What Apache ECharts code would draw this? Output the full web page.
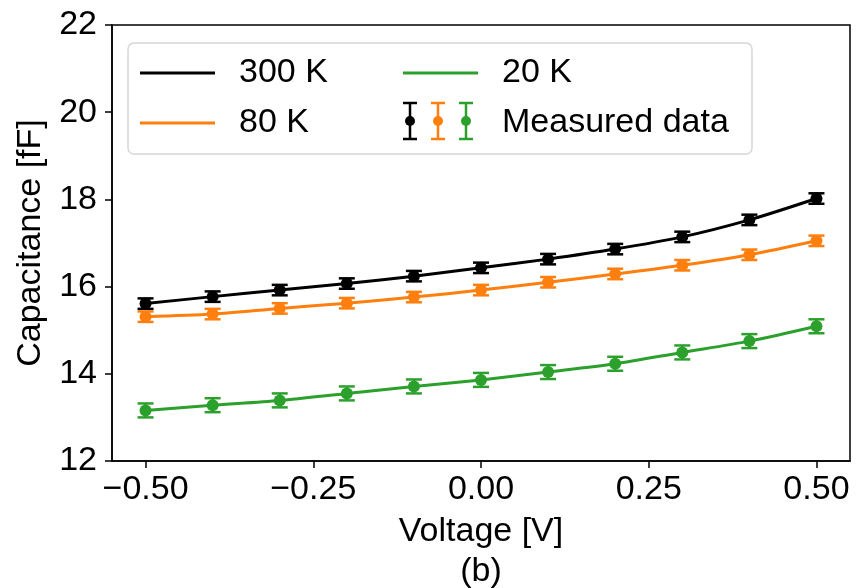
<!DOCTYPE html>
<html>
<head>
<meta charset="utf-8">
<script src="https://cdn.jsdelivr.net/npm/echarts@6/dist/echarts.min.js"></script>
<style>html,body{margin:0;padding:0;background:#fff}#c{width:856px;height:588px}</style>
</head>
<body>
<div id="c"></div>
<script>
const voltages = [-0.5, -0.4, -0.3, -0.2, -0.1, 0.0, 0.1, 0.2, 0.3, 0.4, 0.5];
const c300 = [15.61, 15.77, 15.92, 16.07, 16.24, 16.43, 16.63, 16.86, 17.14, 17.53, 18.02];
const c80  = [15.31, 15.37, 15.50, 15.62, 15.76, 15.92, 16.10, 16.29, 16.49, 16.73, 17.05];
const c20  = [13.16, 13.28, 13.39, 13.55, 13.71, 13.86, 14.04, 14.23, 14.49, 14.75, 15.09];
const err300 = [0.12, 0.12, 0.12, 0.12, 0.12, 0.12, 0.12, 0.12, 0.12, 0.12, 0.12];
const err80  = [0.12, 0.12, 0.12, 0.12, 0.12, 0.12, 0.12, 0.12, 0.12, 0.12, 0.12];
const err20  = [0.16, 0.16, 0.16, 0.16, 0.16, 0.16, 0.16, 0.16, 0.16, 0.16, 0.16];
const xTicks = [-0.5, -0.25, 0, 0.25, 0.5];
const seriesNames = ['300 K', '80 K', '20 K'];
const colors = ['#000000', '#ff7f0e', '#2ca02c'];

const FONT = "'Liberation Sans', Arial, Helvetica, sans-serif";
const FS = 34;
const curves = [c300, c80, c20];
const errs = [err300, err80, err20];

function pairs(ys) { return voltages.map((v, i) => [v, ys[i]]); }
const errData = [];
curves.forEach((ys, g) => voltages.forEach((v, i) => errData.push([v, ys[i], errs[g][i], g])));

function fmt(v) {
  const s = Math.abs(v).toFixed(2);
  return (v < 0 ? '\u2212' : '') + s;
}

const chart = echarts.init(document.getElementById('c'), null, {renderer: 'canvas'});
const lineSeries = curves.map((ys, g) => ({
  name: seriesNames[g], type: 'line', data: pairs(ys), smooth: 0.3,
  symbol: 'none', showSymbol: false, z: 2,
  lineStyle: {color: colors[g], width: 3}, itemStyle: {color: colors[g]}
}));

const errSeries = {
  name: 'Measured data', type: 'custom', data: errData, z: 3,
  itemStyle: {color: '#000'},
  renderItem: function (params, api) {
    const x = api.value(0), y = api.value(1), e = api.value(2), g = api.value(3);
    const top = api.coord([x, y + e]);
    const bot = api.coord([x, y - e]);
    const ctr = api.coord([x, y]);
    const c = colors[g];
    const hw = 8;
    return {
      type: 'group',
      children: [
        {type: 'line', shape: {x1: top[0], y1: top[1], x2: bot[0], y2: bot[1]}, style: {stroke: c, lineWidth: 2.5}},
        {type: 'line', shape: {x1: top[0] - hw, y1: top[1], x2: top[0] + hw, y2: top[1]}, style: {stroke: c, lineWidth: 2.5}},
        {type: 'line', shape: {x1: bot[0] - hw, y1: bot[1], x2: bot[0] + hw, y2: bot[1]}, style: {stroke: c, lineWidth: 2.5}},
        {type: 'circle', shape: {cx: ctr[0], cy: ctr[1], r: 6}, style: {fill: c}}
      ]
    };
  }
};

const legendText = {fontFamily: FONT, fontSize: FS, color: '#000', lineHeight: 40, padding: [0, 0, 0, 19]};
const lineIcon = 'path://M0,0 L100,0 L100,4 L0,4 Z';

// error-bar glyphs for legend
const glyphX = [410, 438, 466];
const glyphs = [];
glyphX.forEach((gx, i) => {
  const st = {stroke: colors[i], lineWidth: 2.5};
  glyphs.push(
    {type: 'line', z: 100, shape: {x1: gx, y1: 103, x2: gx, y2: 139}, style: st},
    {type: 'line', z: 100, shape: {x1: gx - 7, y1: 103, x2: gx + 7, y2: 103}, style: st},
    {type: 'line', z: 100, shape: {x1: gx - 7, y1: 139, x2: gx + 7, y2: 139}, style: st},
    {type: 'circle', z: 100, shape: {cx: gx, cy: 121, r: 5}, style: {fill: colors[i]}}
  );
});

chart.setOption({
  animation: false,
  backgroundColor: '#fff',
  textStyle: {fontFamily: FONT},
  grid: {left: 112, right: 6, top: 25, bottom: 127, show: true, borderColor: '#000', borderWidth: 1.5,
         backgroundColor: 'transparent', outerBoundsMode: 'none', containLabel: false},
  xAxis: {
    type: 'value', min: -0.55, max: 0.55,
    name: 'Voltage [V]\n(b)', nameLocation: 'middle', nameGap: 50,
    nameTextStyle: {fontFamily: FONT, fontSize: FS, color: '#000', lineHeight: 40},
    axisLine: {show: true, onZero: false, lineStyle: {color: '#000', width: 1.5}},
    axisTick: {show: true, inside: false, length: 7, lineStyle: {color: '#000', width: 1.5}, customValues: xTicks},
    axisLabel: {show: true, fontFamily: FONT, fontSize: FS, color: '#000', margin: 12, customValues: xTicks, formatter: fmt},
    splitLine: {show: false}
  },
  yAxis: {
    type: 'value', min: 12, max: 22, interval: 2,
    name: 'Capacitance [fF]', nameLocation: 'middle', nameGap: 64,
    nameTextStyle: {fontFamily: FONT, fontSize: FS, color: '#000'},
    axisLine: {show: true, onZero: false, lineStyle: {color: '#000', width: 1.5}},
    axisTick: {show: true, inside: false, length: 7, lineStyle: {color: '#000', width: 1.5}},
    axisLabel: {fontFamily: FONT, fontSize: FS, color: '#000', margin: 15},
    splitLine: {show: false}
  },
  legend: [
    {orient: 'vertical', left: 140, top: 53, padding: 0, itemWidth: 75, itemHeight: 3, itemGap: 10, z: 60,
     icon: lineIcon,
     data: ['300 K', '80 K'], textStyle: legendText, selectedMode: false},
    {orient: 'vertical', left: 403, top: 53, padding: 0, itemWidth: 75, itemHeight: 3, itemGap: 10, z: 60,
     icon: lineIcon,
     data: ['20 K', {name: 'Measured data', itemStyle: {opacity: 0}}], textStyle: legendText, selectedMode: false}
  ],
  graphic: [
    {type: 'rect', z: 50, shape: {x: 128, y: 43, width: 624, height: 111, r: 6},
     style: {fill: 'rgba(255,255,255,0.8)', stroke: '#d6d6d6', lineWidth: 1.5}}
  ].concat(glyphs),
  series: lineSeries.concat([errSeries])
});
</script>
</body>
</html>
